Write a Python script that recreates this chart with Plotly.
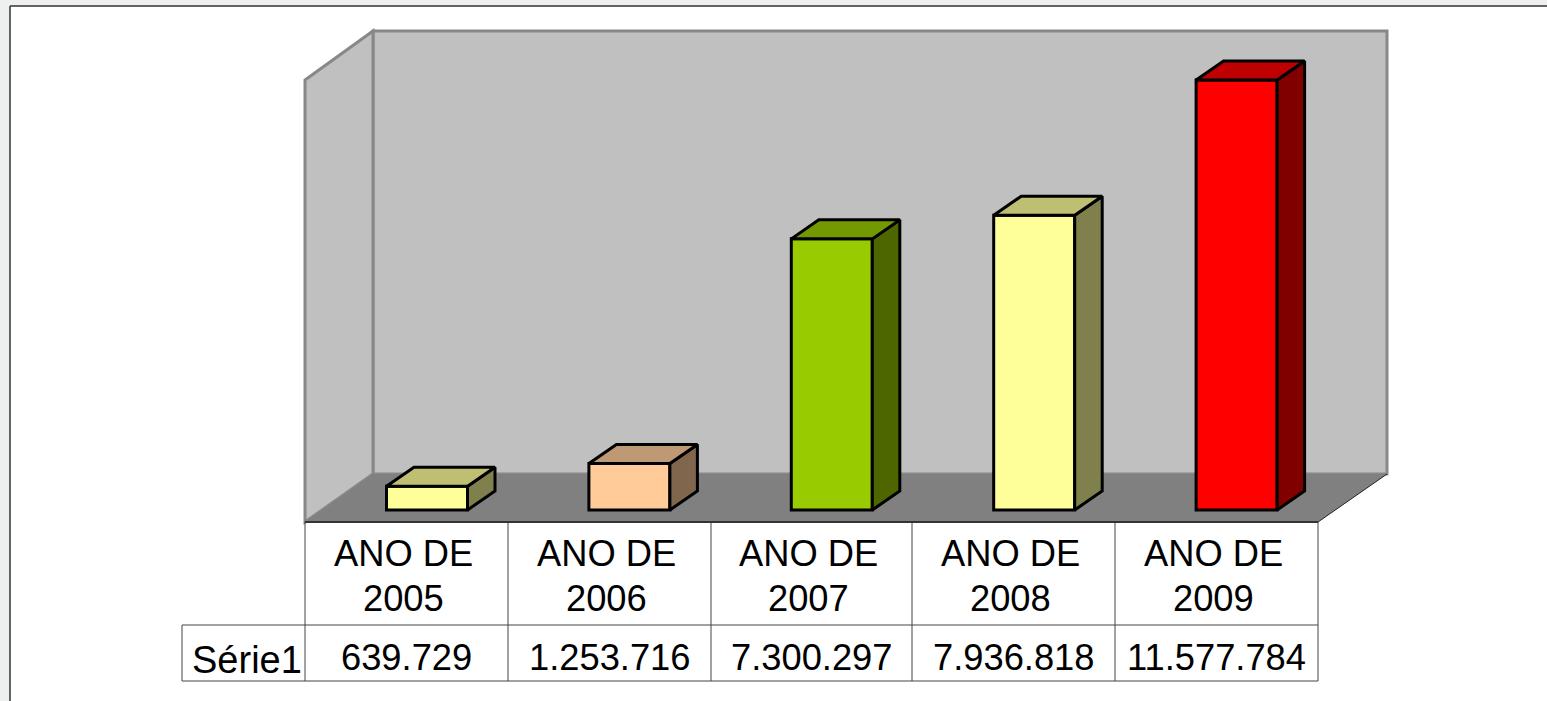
import plotly.graph_objects as go

# ---- data ----
label_line1 = ["ANO DE", "ANO DE", "ANO DE", "ANO DE", "ANO DE"]
label_line2 = ["2005", "2006", "2007", "2008", "2009"]
series_name = "Série1"
values = [639729, 1253716, 7300297, 7936818, 11577784]
value_labels = ["639.729", "1.253.716", "7.300.297", "7.936.818", "11.577.784"]
front_colors = ["#FFFF99", "#FFCC99", "#99CC00", "#FFFF99", "#FF0000"]
top_colors = ["#BFBF73", "#BF9973", "#739900", "#BFBF73", "#BF0000"]
side_colors = ["#80804D", "#80664D", "#4D6600", "#80804D", "#800000"]

# ---- layout constants (pixels of the 1547x701 page) ----
W, H = 1547, 701
X0_PX, X_STEP = 427, 202.4        # centre of first bar, bar spacing
BASE_PX = 510                     # y pixel of value 0
PX_PER_VAL = 430 / 11577784
BAR_W = 81 / X_STEP
DX = 27.5 / X_STEP                # depth offset in category units
DY = 19 / PX_PER_VAL              # depth offset in value units
FONT = "Liberation Sans, Arial, sans-serif"
FS = 36.3
EDGE = 3


def px(x):
    return x / W


def py(y):
    return 1 - y / H


def poly(points):
    return "M" + "L".join(f"{px(a):.5f},{py(b):.5f}" for a, b in points) + "Z"


fig = go.Figure()

xs = list(range(len(values)))

# depth faces, computed from the values through the chart's axes
for i, v in zip(xs, values):
    l, r = i - BAR_W / 2, i + BAR_W / 2
    fig.add_trace(go.Scatter(
        x=[r, r + DX, r + DX, r, r], y=[0, DY, v + DY, v, 0],
        mode="lines", fill="toself", fillcolor=side_colors[i],
        line=dict(color="black", width=EDGE), hoverinfo="skip", showlegend=False))
    fig.add_trace(go.Scatter(
        x=[l, l + DX, r + DX, r, l], y=[v, v + DY, v + DY, v, v],
        mode="lines", fill="toself", fillcolor=top_colors[i],
        line=dict(color="black", width=EDGE), hoverinfo="skip", showlegend=False))

# front faces
fig.add_trace(go.Bar(
    x=xs, y=values, width=BAR_W, name=series_name,
    marker=dict(color=front_colors, line=dict(color="black", width=EDGE)),
    showlegend=False))

shapes = []
# window background frame
shapes.append(dict(type="path", xref="paper", yref="paper", layer="below",
                   path=poly([(10, 6), (W, 6), (W, H), (10, H)]),
                   fillcolor="white", line=dict(width=0)))
for a, b, c, d, col, w in [(10, 6, W, 6, "#333333", 1.5), (10, 6, 10, H, "#333333", 1.5)]:
    shapes.append(dict(type="line", xref="paper", yref="paper", layer="below",
                       x0=px(a), y0=py(b), x1=px(c), y1=py(d),
                       line=dict(color=col, width=w)))
# walls and floor
shapes.append(dict(type="path", xref="paper", yref="paper", layer="below",
                   path=poly([(373, 31), (1387, 31), (1387, 474), (373, 474)]),
                   fillcolor="#C0C0C0", line=dict(color="#888888", width=3)))
shapes.append(dict(type="path", xref="paper", yref="paper", layer="below",
                   path=poly([(305, 80), (373, 31), (373, 474), (305, 522)]),
                   fillcolor="#C0C0C0", line=dict(color="#888888", width=3)))
shapes.append(dict(type="path", xref="paper", yref="paper", layer="below",
                   path=poly([(305, 522), (373, 474), (1387, 474), (1318, 522)]),
                   fillcolor="#808080", line=dict(width=0)))
# floor's edge to the table
shapes.append(dict(type="line", xref="paper", yref="paper", layer="below",
                   x0=px(1318), y0=py(522), x1=px(1387), y1=py(474),
                   line=dict(color="#222222", width=1)))
# data table grid
TABLE_X = [305, 508, 711, 912, 1115, 1318]
for x in TABLE_X:
    shapes.append(dict(type="line", xref="paper", yref="paper", layer="below",
                       x0=px(x), y0=py(522), x1=px(x), y1=py(681),
                       line=dict(color="#444444", width=1)))
shapes.append(dict(type="line", xref="paper", yref="paper", layer="below",
                   x0=px(182), y0=py(625), x1=px(182), y1=py(681),
                   line=dict(color="#444444", width=1)))
for x0, x1, y, c, wd in [(305, 1318, 522, "#333333", 2), (182, 1318, 625, "#444444", 1),
                         (182, 1318, 681, "#444444", 1)]:
    shapes.append(dict(type="line", xref="paper", yref="paper", layer="below",
                       x0=px(x0), y0=py(y), x1=px(x1), y1=py(y),
                       line=dict(color=c, width=wd)))

annotations = []


def txt(x_px, y_px, s, size=FS):
    annotations.append(dict(xref="paper", yref="paper", x=px(x_px), y=py(y_px), text=s,
                            showarrow=False, xanchor="center", yanchor="middle",
                            font=dict(family=FONT, size=size, color="black")))


for i in xs:
    cx = (TABLE_X[i] + TABLE_X[i + 1]) / 2
    txt(cx - 3.5, 553, label_line1[i])
    txt(cx - 3, 598, label_line2[i])
    txt(cx, 657, value_labels[i])
txt(247, 660, series_name, 38)

fig.update_layout(
    width=W, height=H, margin=dict(l=0, r=0, t=0, b=0),
    paper_bgcolor="#EEF0F0", plot_bgcolor="rgba(0,0,0,0)",
    xaxis=dict(visible=False, domain=[0, 1],
               range=[(0 - X0_PX) / X_STEP, (W - X0_PX) / X_STEP]),
    yaxis=dict(visible=False, domain=[0, 1],
               range=[(BASE_PX - H) / PX_PER_VAL, BASE_PX / PX_PER_VAL]),
    shapes=shapes, annotations=annotations, showlegend=False,
)

fig.write_html("out.html", config={"displayModeBar": False},
               post_script="document.body.style.margin='0';document.body.style.overflow='hidden';")
